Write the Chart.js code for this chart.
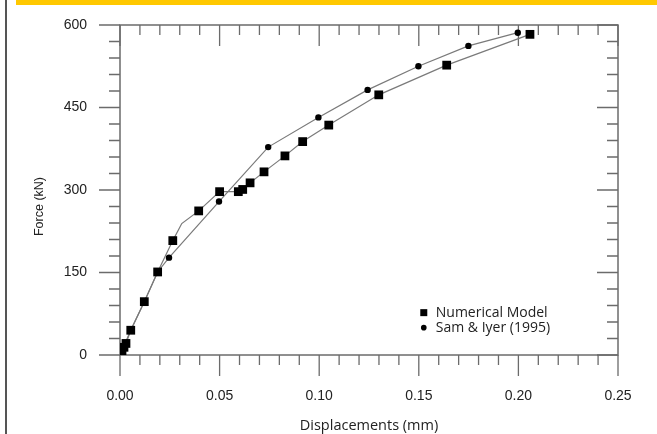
<!DOCTYPE html>
<html>
<head>
<meta charset="utf-8">
<script src="https://cdn.jsdelivr.net/npm/chart.js@4.4.1/dist/chart.umd.min.js"></script>
<style>
  html, body { margin: 0; padding: 0; background: #fff; }
  #page { position: relative; width: 657px; height: 434px; overflow: hidden; }
  #topBar { position: absolute; left: 16px; top: 0; width: 641px; height: 5px; background: #ffc800; }
  #sideLine { position: absolute; left: 5px; top: 0; width: 2px; height: 434px; background: #555; }
  #chart { position: absolute; left: 0; top: 0; }
</style>
</head>
<body>
<div id="page">
  <canvas id="chart" width="657" height="434"></canvas>
  <div id="topBar"></div>
  <div id="sideLine"></div>
</div>
<script>
// Numerical model (squares); one vertex on the line has no marker
const numDisp = [0, 0.001, 0.002, 0.003, 0.0054, 0.0122, 0.0189, 0.0265, 0.031, 0.0395, 0.050, 0.0594, 0.0616, 0.0653, 0.0723, 0.0828, 0.0917, 0.1048, 0.1299, 0.164, 0.2058];
const numForce = [0, 8, 14, 21, 45, 97, 151, 208, 239, 262, 297, 297, 301, 313, 333, 362, 388, 418, 473, 527, 583];
const numMarked = [1, 1, 1, 1, 1, 1, 1, 1, 0, 1, 1, 1, 1, 1, 1, 1, 1, 1, 1, 1, 1];

// Sam & Iyer (1995) (circles); the low points sit under the squares
const samDisp = [0, 0.0054, 0.0122, 0.0189, 0.0246, 0.0497, 0.0744, 0.0996, 0.1243, 0.1498, 0.1749, 0.1997];
const samForce = [0, 45, 97, 151, 177, 279, 378, 432, 482, 525, 562, 586];
const samMarked = [0, 0, 0, 0, 1, 1, 1, 1, 1, 1, 1, 1];

const seriesNames = ["Numerical Model", "Sam & Iyer (1995)"];
const xTitle = "Displacements (mm)";
const yTitle = "Force (kN)";
const xTicks = [0, 0.05, 0.10, 0.15, 0.20, 0.25];
const yTicks = [0, 150, 300, 450, 600];

const AXIS = "#6b6b6b";
const LINE = "#7a7a7a";
const TEXT = "#222";

function toPoints(xs, ys) {
  return xs.map((x, i) => ({ x: x, y: ys[i] }));
}

// fixed scale boxes, no extra label overhang padding
function pinScale(s, size) {
  if (s.isHorizontal()) s.height = size;
  else s.width = size;
  s.paddingTop = 0;
  s.paddingBottom = 0;
  s.paddingLeft = 0;
  s.paddingRight = 0;
}

// frame and tick marks: left/bottom ticks point out, top/right point in
const framePlugin = {
  id: "frame",
  beforeDatasetsDraw(chart) {
    const { ctx, chartArea: a, scales } = chart;
    const x = scales.x, y = scales.y;
    ctx.save();
    ctx.strokeStyle = AXIS;
    ctx.lineWidth = 1.5;
    ctx.strokeRect(a.left, a.top, a.right - a.left, a.bottom - a.top);
    ctx.lineWidth = 1.3;
    ctx.beginPath();
    for (let i = 0; i <= 25; i++) {
      const px = x.getPixelForValue(i * 0.01);
      const len = i % 5 === 0 ? 21 : 10;
      ctx.moveTo(px, a.bottom); ctx.lineTo(px, a.bottom + len);
      ctx.moveTo(px, a.top); ctx.lineTo(px, a.top + len);
    }
    for (let i = 0; i <= 20; i++) {
      const py = y.getPixelForValue(i * 30);
      const len = i % 5 === 0 ? 21 : 11;
      ctx.moveTo(a.left - len, py); ctx.lineTo(a.left, py);
      ctx.moveTo(a.right - len, py); ctx.lineTo(a.right, py);
    }
    ctx.stroke();
    ctx.restore();
  },
  afterDraw(chart) {
    const { ctx, scales } = chart;
    const lx = scales.x.getPixelForValue(0.1525);
    const ly = scales.y.getPixelForValue(77);
    ctx.save();
    ctx.fillStyle = "#000";
    ctx.fillRect(lx - 3.5, ly - 3.5, 7, 7);
    ctx.beginPath();
    ctx.arc(lx, ly + 15, 2.8, 0, Math.PI * 2);
    ctx.fill();
    ctx.fillStyle = TEXT;
    ctx.font = "14px 'Open Sans'";
    ctx.textBaseline = "middle";
    ctx.fillText(seriesNames[0], lx + 12, ly);
    ctx.fillText(seriesNames[1], lx + 12, ly + 15);

    // y title, sitting a little below the plot centre as in the source
    ctx.translate(40, scales.y.getPixelForValue(270));
    ctx.rotate(-Math.PI / 2);
    ctx.textAlign = "center";
    ctx.font = "12.5px 'Liberation Sans'";
    ctx.fillText(yTitle, 0, 0);
    ctx.restore();
  }
};

new Chart(document.getElementById("chart"), {
  type: "scatter",
  data: {
    datasets: [
      {
        label: seriesNames[0],
        data: toPoints(numDisp, numForce),
        showLine: true,
        borderColor: LINE,
        borderWidth: 1.2,
        pointStyle: "rect",
        pointRadius: (c) => numMarked[c.dataIndex] ? 6.2 : 0,
        pointBackgroundColor: "#000",
        pointBorderColor: "#000",
        pointBorderWidth: 0,
        tension: 0
      },
      {
        label: seriesNames[1],
        data: toPoints(samDisp, samForce),
        showLine: true,
        borderColor: LINE,
        borderWidth: 1.2,
        pointStyle: "circle",
        pointRadius: (c) => samMarked[c.dataIndex] ? 3.2 : 0,
        pointBackgroundColor: "#000",
        pointBorderColor: "#000",
        pointBorderWidth: 0,
        tension: 0
      }
    ]
  },
  options: {
    responsive: false,
    animation: false,
    layout: { padding: { left: 33, right: 39, top: 25, bottom: 0 } },
    plugins: {
      legend: { display: false },
      tooltip: { enabled: false }
    },
    scales: {
      x: {
        type: "linear",
        min: 0,
        max: 0.25,
        afterBuildTicks: (s) => { s.ticks = xTicks.map((v) => ({ value: v })); },
        afterFit: (s) => pinScale(s, 79),
        grid: { display: false, drawTicks: false },
        border: { display: false },
        ticks: {
          padding: 33,
          color: TEXT,
          font: { family: "'Liberation Sans'", size: 14 },
          callback: (v) => Number(v).toFixed(2)
        },
        title: {
          display: true,
          text: xTitle,
          color: TEXT,
          font: { family: "'Open Sans'", size: 14.5 },
          padding: { top: 0, bottom: -1 }
        }
      },
      y: {
        type: "linear",
        min: 0,
        max: 600,
        afterBuildTicks: (s) => { s.ticks = yTicks.map((v) => ({ value: v })); },
        afterFit: (s) => pinScale(s, 87),
        grid: { display: false, drawTicks: false },
        border: { display: false },
        ticks: {
          padding: 33,
          color: TEXT,
          font: { family: "'Liberation Sans'", size: 14 }
        },
        title: { display: false }
      }
    }
  },
  plugins: [framePlugin]
});
</script>
</body>
</html>
